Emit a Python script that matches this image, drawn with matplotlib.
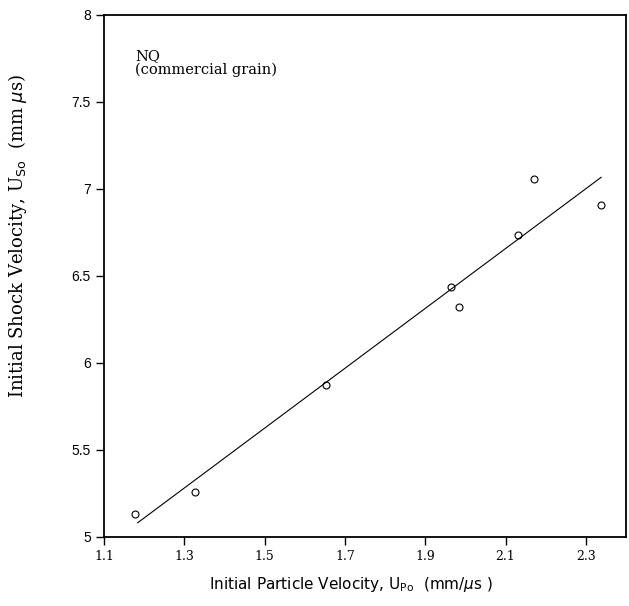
import matplotlib
matplotlib.use("Agg")
import matplotlib.pyplot as plt

# data points
up = [1.177, 1.326, 1.653, 1.964, 1.985, 2.131, 2.170, 2.338]
us = [5.13, 5.257, 5.872, 6.439, 6.320, 6.737, 7.057, 6.906]

# fitted line end points
fit_x = [1.184, 2.338]
fit_y = [5.082, 7.067]

xticks = [1.1, 1.3, 1.5, 1.7, 1.9, 2.1, 2.3]
yticks = [5, 5.5, 6, 6.5, 7, 7.5, 8]

W, H = 629, 606
fig = plt.figure(figsize=(W/100, H/100), dpi=100)
ax = fig.add_axes([104/W, 1-537/H, (626-104)/W, (537-15)/H])

ax.plot(fit_x, fit_y, color="black", lw=0.8)
ax.plot(up, us, "o", mfc="none", mec="black", ms=5, mew=0.8)

ax.set_xlim(1.1, 2.4)
ax.set_ylim(5, 8)
ax.set_xticks(xticks)
ax.set_xticklabels([str(v) for v in xticks], family="DejaVu Serif", fontsize=9)
ax.set_yticks(yticks)
ax.set_yticklabels(["5", "5.5", "6", "6.5", "7", "7.5", "8"], family="Liberation Sans", fontsize=10)
ax.tick_params(direction="out", length=6, width=1)
for s in ax.spines.values():
    s.set_linewidth(1.3)

# label in upper left, pixel position from top-left
fig.text(135/W, 1-49/H, "NQ\n(commercial grain)", family="DejaVu Serif",
         fontsize=10.5, va="top", ha="left", linespacing=1.0)

fig.text(18/W, 1-236/H, r"Initial Shock Velocity, U$_{\rm So}$  (mm $\mu$s)",
         rotation=90, ha="center", va="center", family="DejaVu Serif", fontsize=13)
fig.text(351/W, 1-584/H, r"Initial Particle Velocity, U$_{\rm Po}$  (mm/$\mu$s )",
         ha="center", va="center", family="DejaVu Sans", fontsize=11)

fig.savefig("out.png", dpi=100)
